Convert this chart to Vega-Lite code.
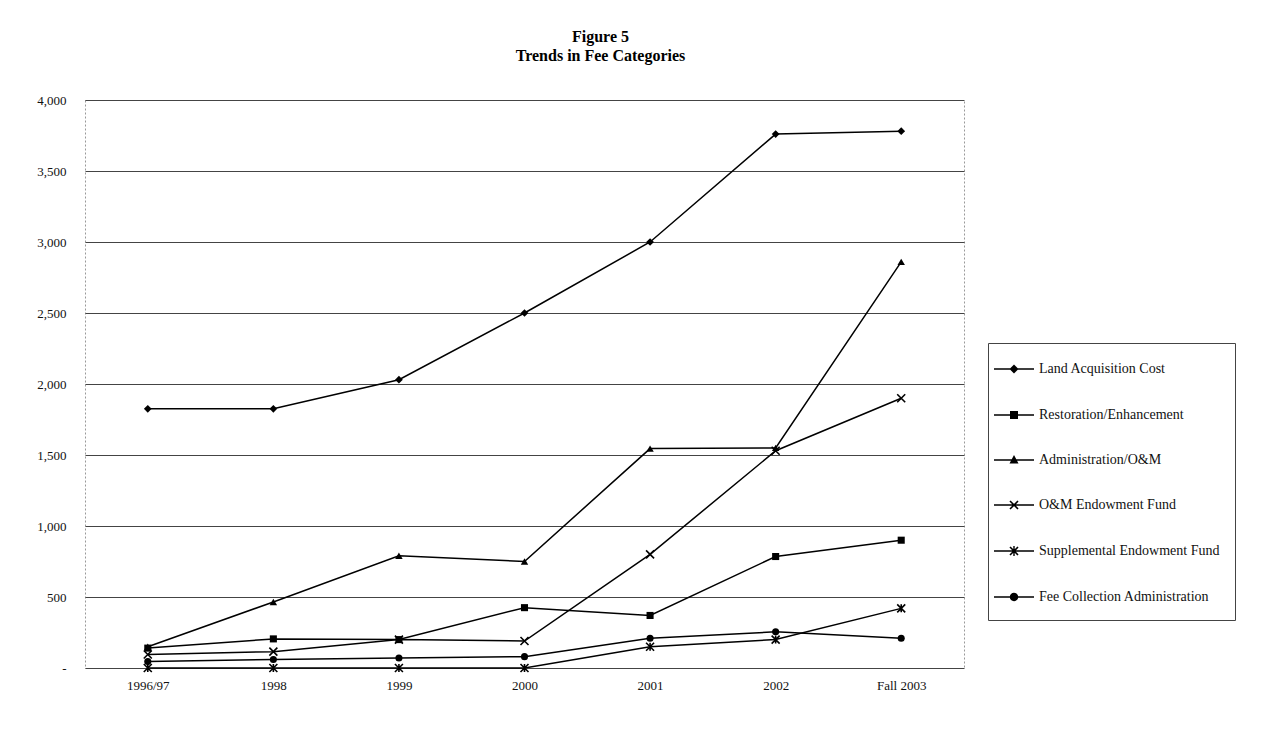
{
  "$schema": "https://vega.github.io/schema/vega-lite/v6.json",
  "autosize": {"type": "none"},
  "padding": {"left": 85, "top": 100, "right": 297, "bottom": 74},
  "width": 879,
  "height": 568,
  "background": "white",
  "config": {
    "font": "Liberation Serif",
    "view": {"stroke": "#999", "strokeDash": [2, 2]}
  },
  "title": {
    "text": ["Figure 5", "Trends in Fee Categories"],
    "font": "Liberation Serif",
    "fontSize": 16,
    "fontWeight": "bold",
    "color": "black",
    "anchor": "middle",
    "dx": 76,
    "offset": 30,
    "lineHeight": 19
  },
  "data": {
    "values": [
      {"series": "Land Acquisition Cost", "period": "1996/97", "value": 1825},
      {"series": "Land Acquisition Cost", "period": "1998", "value": 1825},
      {"series": "Land Acquisition Cost", "period": "1999", "value": 2030},
      {"series": "Land Acquisition Cost", "period": "2000", "value": 2500},
      {"series": "Land Acquisition Cost", "period": "2001", "value": 3000},
      {"series": "Land Acquisition Cost", "period": "2002", "value": 3760},
      {"series": "Land Acquisition Cost", "period": "Fall 2003", "value": 3780},
      {"series": "Restoration/Enhancement", "period": "1996/97", "value": 140},
      {"series": "Restoration/Enhancement", "period": "1998", "value": 205},
      {"series": "Restoration/Enhancement", "period": "1999", "value": 200},
      {"series": "Restoration/Enhancement", "period": "2000", "value": 425},
      {"series": "Restoration/Enhancement", "period": "2001", "value": 370},
      {"series": "Restoration/Enhancement", "period": "2002", "value": 785},
      {"series": "Restoration/Enhancement", "period": "Fall 2003", "value": 900},
      {"series": "Administration/O&M", "period": "1996/97", "value": 150},
      {"series": "Administration/O&M", "period": "1998", "value": 465},
      {"series": "Administration/O&M", "period": "1999", "value": 790},
      {"series": "Administration/O&M", "period": "2000", "value": 750},
      {"series": "Administration/O&M", "period": "2001", "value": 1545},
      {"series": "Administration/O&M", "period": "2002", "value": 1550},
      {"series": "Administration/O&M", "period": "Fall 2003", "value": 2860},
      {"series": "O&M Endowment Fund", "period": "1996/97", "value": 95},
      {"series": "O&M Endowment Fund", "period": "1998", "value": 115},
      {"series": "O&M Endowment Fund", "period": "1999", "value": 200},
      {"series": "O&M Endowment Fund", "period": "2000", "value": 190},
      {"series": "O&M Endowment Fund", "period": "2001", "value": 800},
      {"series": "O&M Endowment Fund", "period": "2002", "value": 1530},
      {"series": "O&M Endowment Fund", "period": "Fall 2003", "value": 1900},
      {"series": "Supplemental Endowment Fund", "period": "1996/97", "value": 0},
      {"series": "Supplemental Endowment Fund", "period": "1998", "value": 0},
      {"series": "Supplemental Endowment Fund", "period": "1999", "value": 0},
      {"series": "Supplemental Endowment Fund", "period": "2000", "value": 0},
      {"series": "Supplemental Endowment Fund", "period": "2001", "value": 150},
      {"series": "Supplemental Endowment Fund", "period": "2002", "value": 200},
      {"series": "Supplemental Endowment Fund", "period": "Fall 2003", "value": 420},
      {"series": "Fee Collection Administration", "period": "1996/97", "value": 45},
      {"series": "Fee Collection Administration", "period": "1998", "value": 60},
      {"series": "Fee Collection Administration", "period": "1999", "value": 70},
      {"series": "Fee Collection Administration", "period": "2000", "value": 80},
      {"series": "Fee Collection Administration", "period": "2001", "value": 210},
      {"series": "Fee Collection Administration", "period": "2002", "value": 255},
      {"series": "Fee Collection Administration", "period": "Fall 2003", "value": 210}
    ]
  },
  "encoding": {
    "x": {
      "field": "period",
      "type": "ordinal",
      "sort": ["1996/97", "1998", "1999", "2000", "2001", "2002", "Fall 2003"],
      "scale": {"type": "point", "padding": 0.5},
      "axis": {
        "title": null,
        "labelAngle": 0,
        "labelFont": "Liberation Serif",
        "labelFontSize": 13,
        "labelColor": "#111",
        "labelPadding": 11,
        "ticks": false,
        "domain": false,
        "grid": false
      }
    },
    "y": {
      "field": "value",
      "type": "quantitative",
      "scale": {"domain": [0, 4000], "nice": false},
      "axis": {
        "title": null,
        "values": [0, 500, 1000, 1500, 2000, 2500, 3000, 3500, 4000],
        "labelExpr": "datum.value == 0 ? '-' : format(datum.value, ',')",
        "labelFont": "Liberation Serif",
        "labelFontSize": 13,
        "labelColor": "#111",
        "labelPadding": 19,
        "ticks": false,
        "domain": false,
        "grid": true,
        "gridColor": "#444",
        "gridWidth": 1
      }
    }
  },
  "layer": [
    {
      "mark": {"type": "line", "color": "black", "strokeWidth": 1.5},
      "encoding": {"detail": {"field": "series"}}
    },
    {
      "transform": [{"filter": "datum.series == 'Land Acquisition Cost'"}],
      "mark": {"type": "point", "shape": "diamond", "filled": true, "color": "black", "size": 60, "opacity": 1}
    },
    {
      "transform": [{"filter": "datum.series == 'Restoration/Enhancement'"}],
      "mark": {"type": "point", "shape": "square", "filled": true, "color": "black", "size": 50, "opacity": 1}
    },
    {
      "transform": [{"filter": "datum.series == 'Administration/O&M'"}],
      "mark": {"type": "point", "shape": "triangle-up", "filled": true, "color": "black", "size": 55, "opacity": 1}
    },
    {
      "transform": [{"filter": "datum.series == 'Fee Collection Administration'"}],
      "mark": {"type": "point", "shape": "circle", "filled": true, "color": "black", "size": 50, "opacity": 1}
    },
    {
      "transform": [{"filter": "datum.series == 'O&M Endowment Fund'"}],
      "mark": {"type": "point", "shape": "M-1,-1L1,1M-1,1L1,-1", "filled": false, "color": "black", "size": 64, "strokeWidth": 1.6, "opacity": 1}
    },
    {
      "transform": [{"filter": "datum.series == 'Supplemental Endowment Fund'"}],
      "mark": {"type": "point", "shape": "M-1,-1L1,1M-1,1L1,-1M0,-1L0,1", "filled": false, "color": "black", "size": 64, "strokeWidth": 1.6, "opacity": 1}
    },
    {
      "transform": [{"filter": "datum.value < 0"}],
      "mark": {"type": "point", "filled": true, "fill": "black", "stroke": "black", "strokeWidth": 1.5, "opacity": 1},
      "encoding": {
        "shape": {
          "field": "series",
          "scale": {
            "domain": ["Land Acquisition Cost", "Restoration/Enhancement", "Administration/O&M", "O&M Endowment Fund", "Supplemental Endowment Fund", "Fee Collection Administration"],
            "range": [
              "M-2,-0.07L2,-0.07L2,0.07L-2,0.07ZM0,-0.45L0.45,0L0,0.45L-0.45,0Z",
              "M-2,-0.07L2,-0.07L2,0.07L-2,0.07ZM-0.4,-0.4L0.4,-0.4L0.4,0.4L-0.4,0.4Z",
              "M-2,-0.07L2,-0.07L2,0.07L-2,0.07ZM0,-0.5L0.45,0.35L-0.45,0.35Z",
              "M-2,-0.07L2,-0.07L2,0.07L-2,0.07ZM-0.343,-0.457L0.457,0.343L0.343,0.457L-0.457,-0.343ZM-0.343,0.457L-0.457,0.343L0.343,-0.457L0.457,-0.343Z",
              "M-2,-0.07L2,-0.07L2,0.07L-2,0.07ZM-0.343,-0.457L0.457,0.343L0.343,0.457L-0.457,-0.343ZM-0.343,0.457L-0.457,0.343L0.343,-0.457L0.457,-0.343ZM-0.07,-0.5L0.07,-0.5L0.07,0.5L-0.07,0.5Z",
              "M-2,-0.07L2,-0.07L2,0.07L-2,0.07ZM-0.42,0A0.42,0.42 0 1,1 0.42,0A0.42,0.42 0 1,1 -0.42,0Z"
            ]
          },
          "legend": {
            "title": null,
            "orient": "none",
            "legendX": 903,
            "legendY": 243,
            "symbolSize": 400,
            "symbolOpacity": 1,
            "symbolFillColor": "black",
            "symbolStrokeColor": "black",
            "symbolStrokeWidth": 1.5,
            "labelOffset": 14,
            "labelLimit": 400,
            "labelFont": "Liberation Serif",
            "labelFontSize": 14,
            "labelColor": "#111",
            "rowPadding": 27,
            "padding": 15,
            "strokeColor": "#444",
            "fillColor": "white",
            "encode": {
              "symbols": {
                "fill": {"value": "black"},
                "stroke": {"value": "black"},
                "strokeWidth": {"value": 1.5},
                "opacity": {"value": 1}
              }
            }
          }
        }
      }
    }
  ]
}
